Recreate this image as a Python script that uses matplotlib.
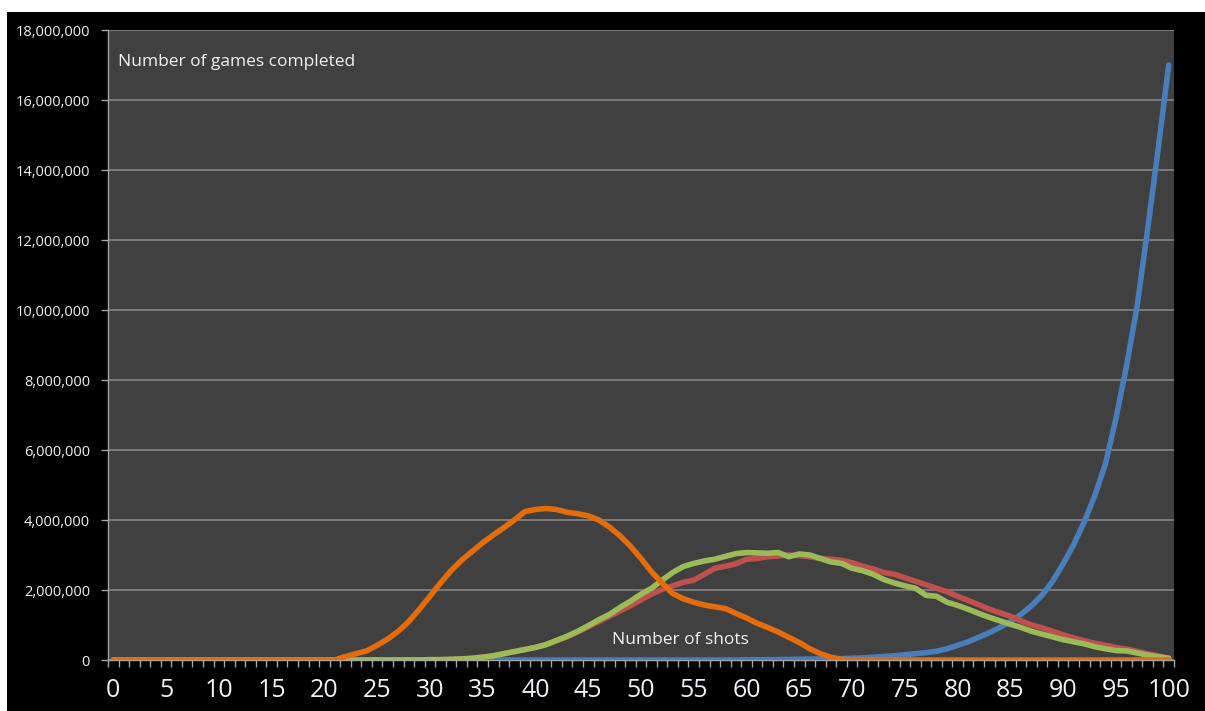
import matplotlib.pyplot as plt
from matplotlib.patches import Rectangle
from matplotlib.ticker import FuncFormatter, MultipleLocator

plt.rcParams["font.family"] = ["Open Sans", "DejaVu Sans"]

OUTPUT_PNG = "out.png"

SHOTS = list(range(0, 101))

# values in millions of games per shot count
BLUE = [0.0] * 60 + [
    0.005, 0.008, 0.01, 0.012, 0.015, 0.02, 0.025, 0.03, 0.035, 0.04,   # 60-69
    0.05, 0.06, 0.08, 0.1, 0.12, 0.15, 0.18, 0.21, 0.25, 0.32,          # 70-79
    0.42, 0.52, 0.65, 0.78, 0.93, 1.1, 1.3, 1.55, 1.85, 2.25,           # 80-89
    2.75, 3.3, 3.95, 4.7, 5.6, 6.9, 8.4, 10.1, 12.3, 14.6,              # 90-99
    17.0,                                                               # 100
]

RED = [0.0] * 30 + [
    0.01, 0.01, 0.02, 0.03, 0.05, 0.08, 0.12, 0.18, 0.24, 0.3,          # 30-39
    0.36, 0.44, 0.55, 0.66, 0.8, 0.95, 1.1, 1.25, 1.4, 1.55,            # 40-49
    1.72, 1.88, 2.02, 2.12, 2.22, 2.28, 2.45, 2.62, 2.68, 2.75,         # 50-59
    2.88, 2.9, 2.95, 2.97, 3.0, 2.98, 2.95, 2.9, 2.88, 2.85,            # 60-69
    2.78, 2.68, 2.6, 2.5, 2.45, 2.35, 2.25, 2.15, 2.05, 1.95,           # 70-79
    1.82, 1.7, 1.58, 1.45, 1.35, 1.25, 1.12, 1.0, 0.92, 0.82,           # 80-89
    0.72, 0.63, 0.55, 0.48, 0.42, 0.36, 0.31, 0.25, 0.18, 0.12,         # 90-99
    0.05,                                                               # 100
]

GREEN = [0.0] * 30 + [
    0.01, 0.01, 0.02, 0.03, 0.05, 0.08, 0.12, 0.18, 0.24, 0.3,          # 30-39
    0.36, 0.44, 0.56, 0.68, 0.82, 0.98, 1.15, 1.3, 1.5, 1.68,           # 40-49
    1.88, 2.05, 2.28, 2.5, 2.67, 2.76, 2.83, 2.88, 2.96, 3.04,          # 50-59
    3.07, 3.06, 3.05, 3.07, 2.95, 3.03, 3.0, 2.9, 2.8, 2.76,            # 60-69
    2.62, 2.55, 2.45, 2.3, 2.2, 2.12, 2.05, 1.85, 1.82, 1.65,           # 70-79
    1.56, 1.45, 1.33, 1.22, 1.12, 1.02, 0.93, 0.82, 0.74, 0.66,         # 80-89
    0.58, 0.52, 0.46, 0.38, 0.32, 0.27, 0.26, 0.2, 0.14, 0.09,          # 90-99
    0.05,                                                               # 100
]

ORANGE = [0.0] * 22 + [
    0.1, 0.18, 0.26, 0.42, 0.6, 0.82, 1.1, 1.45,                        # 22-29
    1.82, 2.2, 2.55, 2.85, 3.1, 3.35, 3.57, 3.78, 4.0, 4.24,            # 30-39
    4.3, 4.33, 4.3, 4.22, 4.18, 4.12, 4.0, 3.8, 3.55, 3.25,             # 40-49
    2.9, 2.52, 2.2, 1.9, 1.75, 1.65, 1.57, 1.52, 1.47, 1.33,            # 50-59
    1.2, 1.05, 0.93, 0.8, 0.65, 0.5, 0.32, 0.18, 0.08, 0.02,            # 60-69
] + [0.0] * 31

SERIES = [
    (BLUE, "#4a7ebb"),
    (RED, "#c0504d"),
    (GREEN, "#9bbb59"),
    (ORANGE, "#e46c0a"),
]

TEXT_COLOR = "#eef2f6"
GRID_COLOR = "#7f7f7f"


def main():
    fig = plt.figure(figsize=(12.05, 7.11), dpi=100, facecolor="white")
    # black chart area, with a thin white strip left and top
    fig.patches.append(Rectangle((7 / 1205, 0), 1, (711 - 12) / 711,
                                 transform=fig.transFigure, facecolor="black",
                                 edgecolor="none", zorder=-10))

    ax = fig.add_axes([108 / 1205, (711 - 660) / 711,
                       (1174 - 108) / 1205, 630 / 711])
    ax.set_zorder(1)
    ax.set_facecolor("#404040")

    for values, color in SERIES:
        ax.plot(SHOTS, [v * 1e6 for v in values], color=color, lw=4,
                solid_capstyle="round", solid_joinstyle="round", zorder=3)

    ax.set_xlim(-0.5, 100.5)
    ax.set_ylim(0, 18e6)

    ax.yaxis.set_major_locator(MultipleLocator(2e6))
    ax.yaxis.set_major_formatter(FuncFormatter(lambda v, p: f"{int(v):,}"))
    ax.grid(axis="y", color=GRID_COLOR, lw=1.3, zorder=1)

    ax.set_xticks(range(0, 101, 5))
    ax.set_xticks([k + 0.5 for k in range(-1, 101)], minor=True)
    ax.tick_params(axis="x", which="major", length=0, pad=13,
                   labelsize=18, labelcolor=TEXT_COLOR)
    ax.tick_params(axis="x", which="minor", length=5, width=1,
                   color="#a6a6a6", direction="out")
    ax.tick_params(axis="y", length=5, width=1, color="#a6a6a6",
                   direction="out", pad=8, labelsize=10.5,
                   labelcolor=TEXT_COLOR)

    for side in ("top", "right"):
        ax.spines[side].set_visible(False)
    for side in ("left", "bottom"):
        ax.spines[side].set_color("#a6a6a6")
        ax.spines[side].set_linewidth(1)

    ax.text(0.0094, 0.949, "Number of games completed", transform=ax.transAxes,
            ha="left", va="center", fontsize=12.5, color=TEXT_COLOR)
    ax.text(0.537, 0.032, "Number of shots", transform=ax.transAxes,
            ha="center", va="center", fontsize=12.5, color=TEXT_COLOR)

    fig.savefig(OUTPUT_PNG, dpi=100, facecolor=fig.get_facecolor())


if __name__ == "__main__":
    main()
